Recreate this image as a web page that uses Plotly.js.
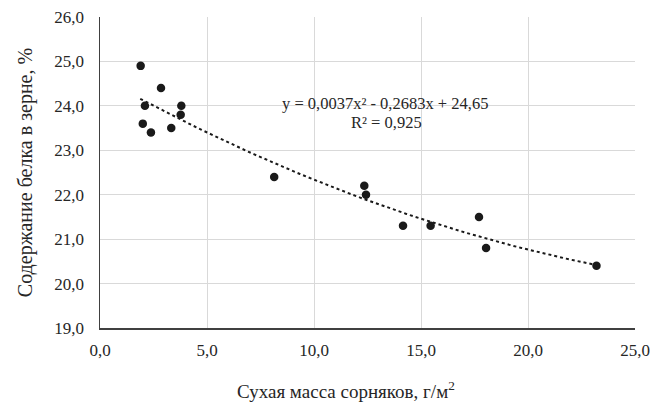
<!DOCTYPE html>
<html>
<head>
<meta charset="utf-8">
<script src="https://cdn.plot.ly/plotly-3.0.1.min.js"></script>
<style>html,body{margin:0;padding:0;background:#fff}#chart{width:664px;height:405px}</style>
</head>
<body>
<div id="chart"></div>
<script>
// Data
var weedMass = [1.9, 2.85, 2.1, 3.8, 3.77, 2.0, 2.38, 3.33, 8.14, 12.35, 12.43, 14.16, 15.45, 17.71, 18.04, 23.2];
var protein  = [24.9, 24.4, 24.0, 24.0, 23.8, 23.6, 23.4, 23.5, 22.4, 22.2, 22.0, 21.3, 21.3, 21.5, 20.8, 20.4];

// Polynomial trendline coefficients as printed on the chart (a*x^2 + b*x + c)
var trendCoef = [0.0037, -0.2683, 24.65];
var trendRange = [1.88, 23.2];
var eqText = 'y = 0,0037x² - 0,2683x + 24,65';
var r2Text = 'R² = 0,925';
var xTitle = 'Сухая масса сорняков, г/м<sup>2</sup>';
var yTitle = 'Содержание белка в зерне, %';

var xTicks = [0, 5, 10, 15, 20, 25];
var yTicks = [19, 20, 21, 22, 23, 24, 25, 26];

var tx = [], ty = [];
var nSteps = 60;
for (var i = 0; i <= nSteps; i++) {
  var x = trendRange[0] + (trendRange[1] - trendRange[0]) * i / nSteps;
  tx.push(x);
  ty.push(trendCoef[0] * x * x + trendCoef[1] * x + trendCoef[2]);
}

var font = 'Liberation Serif, Times New Roman, serif';
var txtColor = '#262626';

var traces = [
  {
    x: tx, y: ty, type: 'scatter', mode: 'lines',
    line: {color: '#1a1a1a', width: 2, dash: 'dot'},
    hoverinfo: 'skip', showlegend: false
  },
  {
    x: weedMass, y: protein, type: 'scatter', mode: 'markers',
    marker: {color: '#1a1a1a', size: 8.5},
    showlegend: false
  }
];

var layout = {
  width: 664, height: 405,
  margin: {l: 100, r: 29, t: 17, b: 77},
  paper_bgcolor: '#fff', plot_bgcolor: '#fff',
  separators: ', ',
  font: {family: font, size: 17, color: txtColor},
  showlegend: false,
  xaxis: {
    range: [0, 25], tickvals: xTicks, tickformat: '.1f',
    showgrid: true, gridcolor: '#d9d9d9', gridwidth: 1,
    zeroline: false, showline: true, linecolor: '#404040', linewidth: 1.5,
    ticks: '', ticklabelstandoff: 6,
    tickfont: {family: font, size: 17, color: txtColor}
  },
  yaxis: {
    range: [19, 26], tickvals: yTicks, tickformat: '.1f',
    showgrid: true, gridcolor: '#d9d9d9', gridwidth: 1,
    zeroline: false, showline: true, linecolor: '#404040', linewidth: 1.5,
    ticks: '', ticklabelstandoff: 11,
    tickfont: {family: font, size: 17, color: txtColor},
    title: {text: yTitle, standoff: 16,
            font: {family: font, size: 20, color: txtColor}}
  },
  annotations: [
    {x: 13.33, y: 24.06, xref: 'x', yref: 'y', text: eqText, showarrow: false,
     xanchor: 'center', yanchor: 'middle', font: {family: font, size: 16.5, color: txtColor}},
    {x: 13.37, y: 23.62, xref: 'x', yref: 'y', text: r2Text, showarrow: false,
     xanchor: 'center', yanchor: 'middle', font: {family: font, size: 16.5, color: txtColor}},
    {x: 346, y: 390, xref: 'paper', yref: 'paper', text: xTitle, showarrow: false,
     xanchor: 'center', yanchor: 'middle', font: {family: font, size: 19, color: txtColor}}
  ]
};
// place the x-axis title annotation in pixel terms converted to paper fractions
var plotW = layout.width - layout.margin.l - layout.margin.r;
var plotH = layout.height - layout.margin.t - layout.margin.b;
var xa = layout.annotations[2];
xa.x = (346 - layout.margin.l) / plotW;
xa.y = (layout.height - layout.margin.b - 390) / plotH;

Plotly.newPlot('chart', traces, layout, {displayModeBar: false, staticPlot: true});
</script>
</body>
</html>
